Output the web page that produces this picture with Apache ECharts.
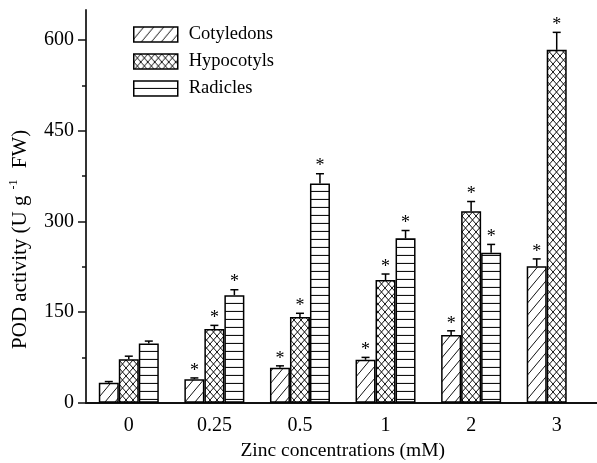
<!DOCTYPE html>
<html><head><meta charset="utf-8">
<script src="https://cdn.jsdelivr.net/npm/echarts@6/dist/echarts.min.js"></script>
<style>html,body{margin:0;padding:0;background:#fff}#c{width:597px;height:463px}</style>
</head><body><div id="c"></div>
<script>
const categories = ['0', '0.25', '0.5', '1', '2', '3'];
const seriesNames = ['Cotyledons', 'Hypocotyls', 'Radicles'];
const cotyledons = [33, 39, 58, 71, 112, 226];
const hypocotyls = [72, 122, 142, 203, 317, 584];
const radicles = [98, 178, 363, 272, 248, null];
const cotErr = [2, 2, 3, 4, 7, 12];
const hypErr = [5, 6, 6, 10, 16, 29];
const radErr = [4, 9, 16, 13, 14, null];
const cotSig = [0, 1, 1, 1, 1, 1];
const hypSig = [0, 1, 1, 1, 1, 1];
const radSig = [0, 1, 1, 1, 1, 0];
const yTicks = [0, 150, 300, 450, 600];

const FONT = '"Liberation Serif", "Times New Roman", serif';

function makePattern(kind) {
  const c = document.createElement('canvas');
  let w, h;
  if (kind === 'diag') { w = 10; h = 12; }
  else if (kind === 'cross') { w = 7; h = 8; }
  else { w = 8; h = 8; }
  c.width = w; c.height = h;
  const g = c.getContext('2d');
  g.fillStyle = '#fff'; g.fillRect(0, 0, w, h);
  g.strokeStyle = '#111'; g.lineWidth = 1;
  g.beginPath();
  if (kind === 'diag') {
    g.moveTo(0, h); g.lineTo(w, 0);
    g.moveTo(-w, h); g.lineTo(0, 0);
    g.moveTo(w, 2 * h); g.lineTo(2 * w, 0);
  } else if (kind === 'cross') {
    g.moveTo(0, 0); g.lineTo(w, h);
    g.moveTo(0, h); g.lineTo(w, 0);
  } else {
    g.lineWidth = 1.2;
    g.moveTo(0, h - 0.5); g.lineTo(w, h - 0.5);
  }
  g.stroke();
  return { image: c, repeat: 'repeat' };
}

const patterns = [makePattern('diag'), makePattern('cross'), makePattern('horiz')];
const values = [cotyledons, hypocotyls, radicles];
const errs = [cotErr, hypErr, radErr];
const sigs = [cotSig, hypSig, radSig];
const offsets = [-20, 0, 20];

function errRender(offset) {
  return function (params, api) {
    const v = api.value(1), e = api.value(2), s = api.value(3);
    if (v == null || isNaN(v)) return;
    const base = api.coord([api.value(0), v]);
    const top = api.coord([api.value(0), v + e]);
    const x = base[0] + offset;
    const children = [
      { type: 'line', shape: { x1: x, y1: base[1], x2: x, y2: top[1] }, style: { stroke: '#000', lineWidth: 1.5 } },
      { type: 'line', shape: { x1: x - 4, y1: top[1], x2: x + 4, y2: top[1] }, style: { stroke: '#000', lineWidth: 1.5 } }
    ];
    if (s) {
      children.push({ type: 'text', x: x, y: top[1] - 7,
        style: { text: '*', font: '18px ' + FONT, textAlign: 'center', textVerticalAlign: 'middle', fill: '#000' } });
    }
    return { type: 'group', children: children };
  };
}

const series = [];
seriesNames.forEach((n, k) => {
  series.push({
    type: 'bar', name: n, data: values[k], barWidth: 20, barGap: '0%',
    itemStyle: { color: patterns[k], borderColor: '#000', borderWidth: 1.5 },
    emphasis: { disabled: true }, z: 2
  });
});
seriesNames.forEach((n, k) => {
  series.push({
    type: 'custom', renderItem: errRender(offsets[k]), z: 5,
    data: categories.map((c, i) => [i, values[k][i], errs[k][i], sigs[k][i]]),
    encode: { x: 0, y: 1 }, silent: true
  });
});

const chart = echarts.init(document.getElementById('c'), null, { renderer: 'canvas' });
chart.setOption({
  animation: false,
  backgroundColor: '#fff',
  grid: { left: 86, top: 10, width: 513.5, height: 392.7, containLabel: false, outerBoundsMode: 'none' },
  legend: {
    data: seriesNames, orient: 'vertical', left: 133, top: 25, padding: 0,
    itemWidth: 44, itemHeight: 15, itemGap: 8, icon: 'rect', selectedMode: false,
    textStyle: { fontFamily: FONT, fontSize: 18.5, color: '#000', padding: [0, 0, 0, 6] },
    itemStyle: { borderColor: '#000', borderWidth: 1.5 }
  },
  xAxis: [{
    type: 'category', data: categories, position: 'bottom',
    axisLine: { lineStyle: { color: '#111', width: 2 } },
    axisTick: { alignWithLabel: true, length: 7, lineStyle: { color: '#111', width: 1.5 } },
    axisLabel: { fontFamily: FONT, fontSize: 20, color: '#000', margin: 13 },
    name: 'Zinc concentrations (mM)', nameLocation: 'middle', nameGap: 38,
    nameTextStyle: { fontFamily: FONT, fontSize: 19.5, color: '#000' }
  }, {
    type: 'category', data: categories, position: 'bottom', gridIndex: 0,
    axisLine: { show: false },
    axisTick: { length: 4, lineStyle: { color: '#111', width: 1.5 } },
    axisLabel: { show: false }
  }],
  yAxis: {
    type: 'value', min: 0, max: 650, interval: 150,
    axisLine: { show: true, lineStyle: { color: '#333', width: 2 } },
    axisTick: { show: true, length: 8, customValues: yTicks, lineStyle: { color: '#111', width: 1.5 } },
    minorTick: { show: true, splitNumber: 2, length: 4, lineStyle: { color: '#111', width: 1.5 } },
    axisLabel: { fontFamily: FONT, fontSize: 20, color: '#000', margin: 12, customValues: yTicks },
    splitLine: { show: false },
    name: 'POD activity (U g{sup|-1} FW)', nameLocation: 'middle', nameGap: 54,
    nameTextStyle: { fontFamily: FONT, fontSize: 21, color: '#000', padding: [0, 66, 0, 0],
      rich: { sup: { fontFamily: FONT, fontSize: 12, color: '#000', padding: [0, 6, 12, 6] } } }
  },
  series: series
});
</script>
</body></html>
